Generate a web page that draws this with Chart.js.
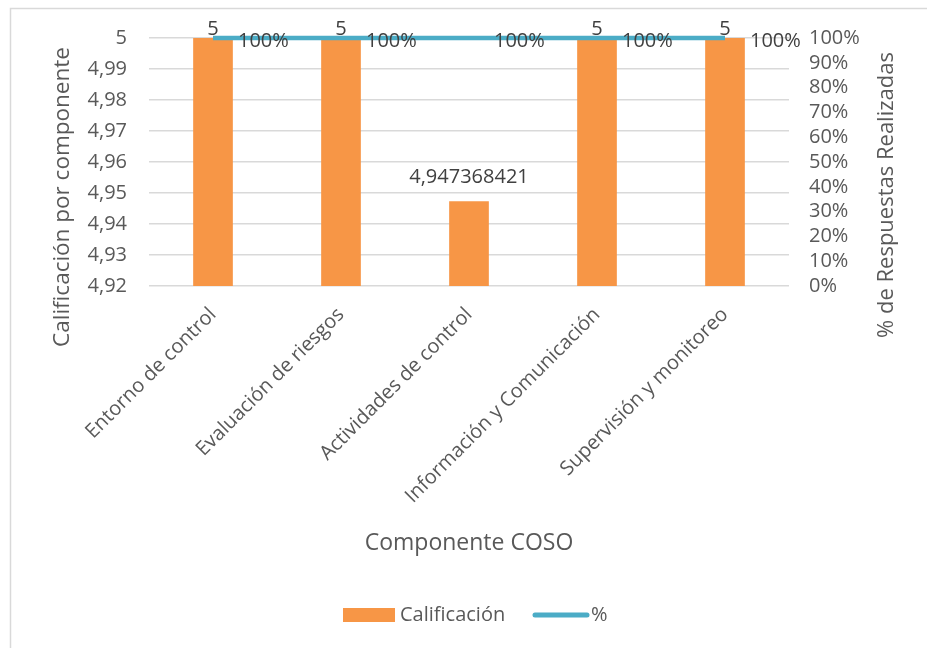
<!DOCTYPE html>
<html>
<head>
<meta charset="utf-8">
<script src="https://cdn.jsdelivr.net/npm/chart.js@4"></script>
<style>
  html, body { margin: 0; padding: 0; background: #fff; }
</style>
</head>
<body>
<canvas id="myChart" width="927" height="648"></canvas>
<script>
let componentes = ['Entorno de control', 'Evaluación de riesgos', 'Actividades de control', 'Información y Comunicación', 'Supervisión y monitoreo'];
let calificacion = [5, 5, 4.947368421, 5, 5];
let respuestas = [1, 1, 1, 1, 1];

let titulo_x = 'Componente COSO';
let titulo_y = 'Calificación por componente';
let titulo_y1 = '% de Respuestas Realizadas';

const FONT = '"Open Sans", sans-serif';
const GRIS = '#595959';

function tituloVertical(ctx, text, x, y, size) {
    ctx.save();
    ctx.fillStyle = GRIS;
    ctx.font = size + 'px ' + FONT;
    ctx.translate(x, y);
    ctx.rotate(-Math.PI / 2);
    ctx.textAlign = 'center';
    ctx.textBaseline = 'middle';
    ctx.fillText(text, 0, 0);
    ctx.restore();
}

// labels, legend, axis titles and border drawn after the chart
const extras = {
    id: 'extras',
    afterDatasetsDraw(chart) {
        const ctx = chart.ctx;
        ctx.save();
        ctx.font = '20px ' + FONT;
        ctx.fillStyle = '#404040';
        // bar values
        const bars = chart.getDatasetMeta(0).data;
        ctx.textAlign = 'center';
        ctx.textBaseline = 'middle';
        bars.forEach((b, i) => {
            const y = Math.max(b.y - 24, 29);
            ctx.fillText(String(calificacion[i]).replace('.', ','), b.x, y);
        });
        // line values
        const pts = chart.getDatasetMeta(1).data;
        ctx.textAlign = 'left';
        pts.forEach((p, i) => {
            ctx.fillText(Math.round(respuestas[i] * 100) + '%', p.x + 25, p.y + 3);
        });
        ctx.restore();
    },
    afterDraw(chart) {
        const ctx = chart.ctx;
        ctx.save();
        // border
        ctx.strokeStyle = '#D9D9D9';
        ctx.lineWidth = 1.5;
        ctx.strokeRect(10.5, 8.5, 1000, 1000);
        ctx.restore();

        // y axis titles (read upward)
        tituloVertical(ctx, titulo_y, 63, 197, 22.5);
        tituloVertical(ctx, titulo_y1, 887, 195, 22);

        // legend
        ctx.save();
        const ds = chart.data.datasets;
        ctx.font = '20px ' + FONT;
        ctx.fillStyle = ds[0].backgroundColor;
        ctx.fillRect(343, 608, 52, 14);
        ctx.fillStyle = GRIS;
        ctx.textBaseline = 'middle';
        ctx.fillText(ds[0].label, 400, 615);
        ctx.strokeStyle = ds[1].borderColor;
        ctx.lineWidth = 5;
        ctx.lineCap = 'round';
        ctx.beginPath();
        ctx.moveTo(535, 615);
        ctx.lineTo(587, 615);
        ctx.stroke();
        ctx.fillText(ds[1].label, 591, 615);
        ctx.restore();
    }
};

const ctx = document.getElementById('myChart').getContext('2d');
const myChart = new Chart(ctx, {
    type: 'bar',
    data: {
        labels: componentes,
        datasets: [{
            label: 'Calificación',
            data: calificacion,
            yAxisID: 'y',
            backgroundColor: '#F79646',
            borderWidth: 0,
            categoryPercentage: 1,
            barPercentage: 0.31,
            order: 2
        }, {
            type: 'line',
            label: '%',
            data: respuestas,
            yAxisID: 'y1',
            borderColor: '#4BACC6',
            backgroundColor: '#4BACC6',
            borderWidth: 4.5,
            pointRadius: 0,
            lineTension: 0,
            clip: false,
            order: 1
        }]
    },
    options: {
        responsive: false,
        animation: false,
        devicePixelRatio: 1,
        layout: { padding: { top: 38, bottom: 70, left: 0, right: 0 } },
        plugins: {
            legend: { display: false },
            tooltip: { enabled: false }
        },
        scales: {
            x: {
                grid: { display: false, drawTicks: false },
                border: { display: false },
                ticks: {
                    color: GRIS,
                    font: { family: FONT, size: 20 },
                    minRotation: 45,
                    maxRotation: 45,
                    padding: 17,
                    autoSkip: false
                },
                title: {
                    display: true,
                    text: titulo_x,
                    color: GRIS,
                    font: { family: FONT, size: 23 },
                    padding: { top: 0, bottom: 21 }
                },
                afterFit(s) { s.height = 292; }
            },
            y: {
                position: 'left',
                min: 4.92,
                max: 5,
                ticks: {
                    stepSize: 0.01,
                    color: GRIS,
                    font: { family: FONT, size: 20 },
                    padding: 22,
                    callback: v => String(Number(v.toFixed(2))).replace('.', ',')
                },
                grid: { color: '#D9D9D9', lineWidth: 1.5, drawTicks: false },
                border: { display: false },
                afterFit(s) { s.width = 149; }
            },
            y1: {
                position: 'right',
                min: 0,
                max: 1,
                ticks: {
                    stepSize: 0.1,
                    autoSkip: false,
                    color: GRIS,
                    font: { family: FONT, size: 20 },
                    padding: 20,
                    callback: v => Math.round(v * 100) + '%'
                },
                grid: { display: false, drawTicks: false },
                border: { display: false },
                afterFit(s) { s.width = 138; }
            }
        }
    },
    plugins: [extras]
});
</script>
</body>
</html>
